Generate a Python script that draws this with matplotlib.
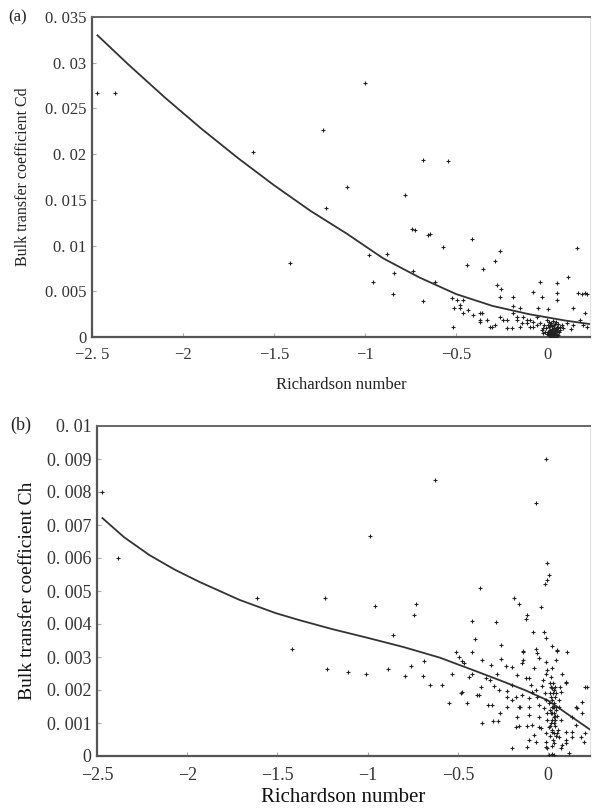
import numpy as np
import matplotlib
matplotlib.use("Agg")
import matplotlib.pyplot as plt

plt.rcParams['font.family'] = ['Liberation Serif', 'DejaVu Serif']

# --- panel (a): drag coefficient Cd ---
curve_a_x = [-2.47, -2.3, -2.1, -1.9, -1.7, -1.5, -1.3, -1.1, -0.9, -0.7, -0.5, -0.3, -0.1, 0.1, 0.24]
curve_a_y = [0.0330, 0.0298, 0.0262, 0.0228, 0.0196, 0.0166, 0.0138, 0.0113, 0.0086, 0.0065,
             0.0047, 0.0034, 0.0025, 0.0018, 0.0014]

pts_a = [
    (-2.47, 0.0267), (-2.374, 0.0267), (-1.615, 0.0202), (-1.0, 0.0278), (-1.23, 0.0226),
    (-0.68, 0.0194), (-0.544, 0.0193), (-1.099, 0.0164), (-0.78, 0.0155), (-1.41, 0.0081),
    (-1.214, 0.0141), (-0.742, 0.0118), (-0.725, 0.0117), (-0.643, 0.0113), (-0.654, 0.0112),
    (-0.412, 0.0107), (-0.571, 0.0098), (-0.258, 0.0094), (0.165, 0.0097), (-0.879, 0.0091),
    (-0.978, 0.0090), (-0.286, 0.0083), (-0.44, 0.0079), (-0.352, 0.0074), (-0.736, 0.0072),
    (-0.84, 0.0070), (0.115, 0.0066), (-0.956, 0.0060), (-0.615, 0.0060), (-0.038, 0.0060),
    (0.055, 0.0059), (-0.275, 0.0057), (-0.253, 0.0053), (-0.846, 0.0047), (-0.68, 0.0039),
    (-0.077, 0.0049), (-0.027, 0.0044), (0.055, 0.0048), (0.192, 0.0047), (0.22, 0.0047),
    (-0.187, 0.0044), (-0.258, 0.0044), (-0.522, 0.0043), (0.055, 0.0040), (-0.46, 0.0040),
    (-0.495, 0.0040), (-0.478, 0.0035), (-0.434, 0.0030), (-0.511, 0.0032), (-0.187, 0.0034),
    (-0.148, 0.0032), (-0.049, 0.0032), (0.005, 0.0031), (0.143, 0.0032), (0.209, 0.0026),
    (-0.368, 0.0026), (-0.406, 0.0024), (-0.516, 0.0011), (-0.368, 0.0019), (-0.302, 0.0011),
    (-0.286, 0.0013), (-0.258, 0.0022), (-0.22, 0.0019), (-0.192, 0.0010), (-0.165, 0.0022),
    (-0.137, 0.0015), (-0.11, 0.0019), (-0.093, 0.0011), (-0.077, 0.0016), (-0.055, 0.0013),
    (-0.478, 0.0032), (-0.46, 0.0026), (-0.357, 0.0026), (-0.368, 0.0016), (-0.33, 0.0019),
    (-0.313, 0.0011), (-0.242, 0.0019), (-0.22, 0.0010), (-0.187, 0.0026), (-0.165, 0.0019),
    (-0.148, 0.0011), (-0.132, 0.0022), (-0.11, 0.0015), (-0.093, 0.0019), (-0.077, 0.0011),
    (-0.055, 0.0022), (-0.038, 0.0015), (-0.022, 0.0010), (0.0, 0.0019), (0.071, 0.0011),
    (0.11, 0.0015), (0.143, 0.0013), (0.181, 0.0019), (0.22, 0.0011), (0.17, 0.0048),
    (0.209, 0.0048), (0.09, 0.0010), (0.13, 0.0009), (0.20, 0.0013),
    (0.01, 0.0002), (0.02, 0.0004), (0.03, 0.0001), (0.04, 0.0006), (0.05, 0.0003),
    (0.015, 0.0008), (0.025, 0.0012), (0.035, 0.0009), (0.045, 0.0014), (0.055, 0.0007),
    (0.005, 0.0005), (0.012, 0.0011), (0.022, 0.0015), (0.032, 0.0005), (0.042, 0.0002),
    (0.052, 0.0011), (0.018, 0.0001), (0.028, 0.0007), (0.038, 0.0013), (0.048, 0.0009),
    (-0.005, 0.0010), (-0.01, 0.0006), (0.06, 0.0002), (0.065, 0.0005), (0.008, 0.0016),
    (0.03, 0.0017), (-0.015, 0.0013), (0.045, 0.0000), (0.02, 0.0000), (0.058, 0.0014),
    (0.0, 0.0003), (0.008, 0.0007), (0.016, 0.0005), (0.024, 0.0002), (0.034, 0.0003),
    (0.044, 0.0004), (0.054, 0.0001), (0.012, 0.0003), (0.026, 0.0009), (0.036, 0.0006),
    (0.046, 0.0007), (0.018, 0.0013), (0.04, 0.0010), (-0.02, 0.0004), (-0.03, 0.0008),
    (0.07, 0.0008), (0.08, 0.0013), (0.062, 0.0010), (0.003, 0.0013), (0.05, 0.0016),
]

# --- panel (b): heat coefficient Ch ---
curve_b_x = [-2.47, -2.35, -2.21, -2.07, -1.93, -1.71, -1.51, -1.38, -1.2, -1.0, -0.8, -0.6,
             -0.4, -0.27, -0.13, 0.0, 0.1, 0.235]
curve_b_y = [0.00721, 0.00663, 0.00609, 0.00565, 0.00527, 0.00473, 0.00433, 0.00412, 0.00385,
             0.00358, 0.00330, 0.00298, 0.00257, 0.00230, 0.00200, 0.00168, 0.00130, 0.00079]

pts_b = [
    (-2.472, 0.0080), (-2.384, 0.0060), (-1.616, 0.0048), (-0.014, 0.0090), (-0.627, 0.00836),
    (-0.069, 0.00766), (-0.986, 0.00667), (-0.008, 0.00585), (0.003, 0.0055), (-0.008, 0.00533),
    (-0.019, 0.0052), (-0.378, 0.0051), (-0.19, 0.0048), (-1.235, 0.0048), (-1.417, 0.00324),
    (-0.958, 0.00455), (-0.732, 0.0046), (-0.743, 0.00427), (-0.859, 0.00367), (-1.224, 0.00264),
    (-1.108, 0.00255), (-1.008, 0.00248), (-0.887, 0.00264), (-0.76, 0.00273), (-0.793, 0.00242),
    (-0.688, 0.00288), (-0.693, 0.00242), (-0.655, 0.00215), (-0.588, 0.00215), (-0.533, 0.0025),
    (-0.511, 0.00315), (-0.423, 0.0041), (-0.29, 0.00406), (-0.406, 0.00355), (-0.423, 0.00315),
    (-0.262, 0.00336), (-0.163, 0.0046), (-0.119, 0.00427), (-0.041, 0.00452), (-0.086, 0.00376),
    (-0.025, 0.00376), (-0.014, 0.00358), (0.047, 0.00318), (0.102, 0.00315), (0.213, 0.00209),
    (0.185, 0.00164), (0.158, 0.00145), (-0.55, 0.0016), (-0.45, 0.0016), (-0.478, 0.00194),
    (-0.384, 0.00185), (-0.334, 0.00155), (-0.312, 0.00155), (-0.367, 0.0010), (-0.307, 0.00106),
    (-0.279, 0.00106), (-0.268, 0.0013), (-0.478, 0.00288), (-0.494, 0.0030), (-0.467, 0.00282),
    (-0.367, 0.00291), (-0.318, 0.00276), (-0.262, 0.00294), (-0.235, 0.00273), (-0.423, 0.0025),
    (-0.373, 0.00209), (-0.323, 0.0023), (-0.284, 0.0025), (-0.273, 0.0020), (-0.229, 0.00179),
    (-0.202, 0.00215), (-0.163, 0.00091), (-0.119, 0.00091), (-0.202, 0.0017), (-0.158, 0.00148),
    (-0.202, 0.00024), (-0.147, 0.00282), (-0.141, 0.00315), (-0.108, 0.00236), (-0.092, 0.00194),
    (-0.08, 0.00267), (-0.064, 0.00312), (-0.014, 0.00285), (-0.008, 0.0026), (0.019, 0.00267),
    (0.097, 0.00224), (-0.108, 0.00048), (-0.08, 0.00064), (-0.014, 0.00027), (-0.014, 0.0007),
    (-0.053, 0.00088), (0.019, 0.00006), (0.097, 0.00048), (0.130, 0.00073), (0.180, 0.00058),
    (0.196, 0.00042), (0.207, 0.0007), (0.113, 0.00009), (0.075, 0.00033), (0.058, 0.00058),
    (-0.124, 0.00415), (0.019, 0.00333), (0.047, 0.00321), (-0.141, 0.00318), (-0.069, 0.00324),
    (-0.141, 0.00291), (-0.053, 0.00297), (0.041, 0.00291), (-0.202, 0.0027), (-0.014, 0.0025),
    (0.075, 0.0025), (-0.439, 0.0024), (-0.345, 0.00236), (-0.174, 0.00245), (-0.124, 0.00236),
    (0.097, 0.00221), (-0.301, 0.00212), (-0.229, 0.00197), (-0.097, 0.00215), (-0.069, 0.0020),
    (-0.036, 0.00212), (0.019, 0.00206), (0.069, 0.00194), (0.207, 0.00209), (-0.483, 0.00191),
    (-0.395, 0.00185), (-0.18, 0.00179), (-0.147, 0.00185), (-0.108, 0.00176), (-0.064, 0.00179),
    (-0.014, 0.0017), (0.014, 0.00179), (0.058, 0.0017), (-0.229, 0.00148), (-0.163, 0.00148),
    (-0.108, 0.00148), (-0.053, 0.00155), (-0.025, 0.00145), (0.019, 0.00148), (0.041, 0.00139),
    (0.152, 0.00148), (0.185, 0.0013), (-0.174, 0.00118), (-0.108, 0.00124), (-0.053, 0.00118),
    (-0.008, 0.00109), (0.03, 0.00118), (0.069, 0.00109), (0.13, 0.00118), (0.157, 0.00094),
    (-0.18, 0.00088), (-0.092, 0.00094), (-0.041, 0.00085), (0.003, 0.00088), (0.019, 0.00073),
    (0.047, 0.0007), (0.097, 0.00073), (0.13, 0.00058), (-0.119, 0.00027), (-0.069, 0.00042),
    (-0.014, 0.00042), (-0.008, 0.00024), (0.03, 0.00039), (0.069, 0.00024), (0.097, 0.00039),
    (0.003, 0.00003), (0.03, 0.00003),
    (0.01, 0.0006), (0.02, 0.0008), (0.03, 0.0010), (0.04, 0.0012), (0.015, 0.0013),
    (0.025, 0.0015), (0.035, 0.0016), (0.01, 0.0019), (0.02, 0.0011), (0.03, 0.0007),
    (0.04, 0.0009), (0.015, 0.0010), (0.025, 0.0005), (0.035, 0.0013), (0.045, 0.0015),
    (0.01, 0.0014), (0.02, 0.0017), (0.03, 0.0020), (0.04, 0.0018), (0.05, 0.0012),
    (0.008, 0.0022), (0.018, 0.0024), (0.028, 0.0022), (0.038, 0.0021), (0.012, 0.0009),
    (0.022, 0.0013), (0.032, 0.0015), (0.042, 0.0006), (0.006, 0.0016), (0.026, 0.0019),
    (0.036, 0.0011), (0.046, 0.0019), (0.016, 0.0021), (0.052, 0.0008), (-0.004, 0.0013),
    (-0.02, 0.0019), (-0.03, 0.0023), (0.06, 0.0015), (0.065, 0.0021), (0.024, 0.0003),
]

xt_a = [-2.5, -2, -1.5, -1, -0.5, 0]
xt_a_lbl = ["\u22122. 5", "\u22122", "\u22121.5", "\u22121", "\u22120.5", "0"]
yt_a = [0, 0.005, 0.01, 0.015, 0.02, 0.025, 0.03, 0.035]
yt_a_lbl = ["0", "0. 005", "0. 01", "0. 015", "0. 02", "0. 025", "0. 03", "0. 035"]

xt_b = [-2.5, -2, -1.5, -1, -0.5, 0]
xt_b_lbl = ["\u22122.5", "\u22122", "\u22121.5", "\u22121", "\u22120.5", "0"]
yt_b = [0, 0.001, 0.002, 0.003, 0.004, 0.005, 0.006, 0.007, 0.008, 0.009, 0.01]
yt_b_lbl = ["0", "0. 001", "0. 002", "0. 003", "0. 004", "0. 005", "0. 006",
            "0. 007", "0. 008", "0. 009", "0. 01"]

W, H = 592, 811
fig = plt.figure(figsize=(W / 100, H / 100), dpi=100)

def px_axes(l, t, r, b):
    return fig.add_axes([l / W, 1 - b / H, (r - l) / W, (b - t) / H])

def style(ax, lblsize):
    for s in ['left', 'bottom']:
        ax.spines[s].set_color('#555555')
        ax.spines[s].set_linewidth(1.6)
    ax.spines['top'].set_color('#666666')
    ax.spines['top'].set_linewidth(1.4)
    ax.spines['right'].set_color('#e0e0e0')
    ax.spines['right'].set_linewidth(0.8)
    ax.tick_params(direction='in', length=3, width=0.8, color='#aaaaaa',
                   labelsize=lblsize, labelcolor='#333333')
    ax.tick_params(axis='x', pad=7)
    ax.tick_params(axis='y', pad=4)

ink = '#222222'

# (a)
ax1 = px_axes(92, 17, 590, 337)
xa, ya = zip(*pts_a)
ax1.scatter(xa, ya, marker='+', s=7, linewidths=0.8, color=ink, zorder=3)
ax1.plot(curve_a_x, curve_a_y, color='#333333', lw=1.3, zorder=2)
ax1.set_xlim(-2.5, 0.236)
ax1.set_ylim(0, 0.035)
ax1.set_xticks(xt_a)
ax1.set_xticklabels(xt_a_lbl)
ax1.set_yticks(yt_a)
ax1.set_yticklabels(yt_a_lbl)
style(ax1, 12)
ax1.set_xlabel("Richardson number", fontsize=12, color='#222222', labelpad=10)
ax1.set_ylabel("Bulk transfer coefficient Cd", fontsize=11.5, color='#222222', labelpad=10)
fig.text(8 / W, 1 - 17 / H, "(a)", fontsize=12, color='#222222', va='center', ha='left')

# (b)
ax2 = px_axes(97, 426, 590, 756)
xb, yb = zip(*pts_b)
ax2.scatter(xb, yb, marker='+', s=7, linewidths=0.8, color=ink, zorder=3)
ax2.plot(curve_b_x, curve_b_y, color='#333333', lw=1.3, zorder=2)
ax2.set_xlim(-2.5, 0.232)
ax2.set_ylim(0, 0.01)
ax2.set_xticks(xt_b)
ax2.set_xticklabels(xt_b_lbl)
ax2.set_yticks(yt_b)
ax2.set_yticklabels(yt_b_lbl)
style(ax2, 13)
ax2.tick_params(axis='x', pad=8)
ax2.set_xlabel("Richardson number", fontsize=15, color='#111111', labelpad=3)
ax2.set_ylabel("Bulk transfer coefficient Ch", fontsize=14, color='#111111', labelpad=8)
fig.text(10 / W, 1 - 425 / H, "(b)", fontsize=13, color='#222222', va='center', ha='left')

fig.savefig("out.png", dpi=100)
